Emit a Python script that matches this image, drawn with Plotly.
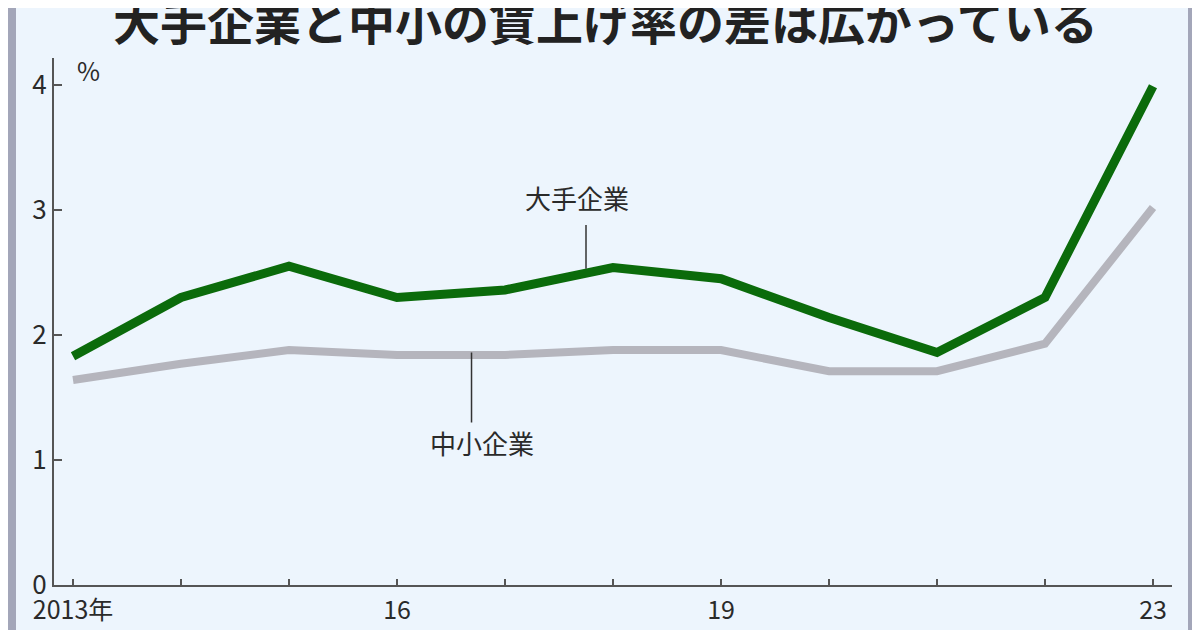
import plotly.graph_objects as go

# 賃上げ率 (%), 2013-2023
years = list(range(2013, 2024))
ote = [1.83, 2.30, 2.55, 2.30, 2.36, 2.54, 2.45, 2.14, 1.86, 2.30, 3.99]      # 大手企業
chusho = [1.64, 1.77, 1.88, 1.84, 1.84, 1.88, 1.88, 1.71, 1.71, 1.93, 3.02]   # 中小企業
tick_text = ["2013年", "", "", "16", "", "", "19", "", "", "", "23"]
y_ticks = [0, 1, 2, 3, 4]

BG = "#edf5fd"
TXT = "#2a2a2a"
AX = "#555555"
JP = "Noto Sans CJK JP"

# plot area in page pixels: x 54..1172, y 58..585
L, R, T, B = 54, 1172, 58, 585
OFF = 8  # the page body has an 8px margin
W, H = 1200 - OFF, 630 - OFF


def px(x):
    return (x - L) / (R - L)


def py(y):
    return (B - y) / (B - T)


fig = go.Figure()
fig.add_trace(go.Scatter(x=years, y=chusho, mode="lines",
                         line=dict(color="#b5b5bd", width=8), hoverinfo="skip"))
fig.add_trace(go.Scatter(x=years, y=ote, mode="lines",
                         line=dict(color="#0b6b0b", width=9), hoverinfo="skip"))

# side bands
fig.add_shape(type="rect", xref="paper", yref="paper", x0=px(0), x1=px(16),
              y0=py(640), y1=py(0), fillcolor="#a3a6b9", line_width=0, layer="below")
fig.add_shape(type="rect", xref="paper", yref="paper", x0=px(1188), x1=px(1210),
              y0=py(640), y1=py(0), fillcolor="#a3a6b9", line_width=0, layer="below")

# label leader lines
fig.add_shape(type="line", x0=2017.75, x1=2017.75, y0=2.88, y1=2.53,
              line=dict(color="#333333", width=1.5))
fig.add_shape(type="line", x0=2016.69, x1=2016.69, y0=1.86, y1=1.30,
              line=dict(color="#333333", width=1.5))

fig.add_annotation(x=2017.67, y=3.1, text="大手企業", showarrow=False,
                   xanchor="center", yanchor="middle",
                   font=dict(family=JP, size=26, color=TXT))
fig.add_annotation(x=2016.79, y=1.14, text="中小企業", showarrow=False,
                   xanchor="center", yanchor="middle",
                   font=dict(family=JP, size=26, color=TXT))
fig.add_annotation(xref="paper", yref="paper", x=px(88), y=py(70), text="%",
                   showarrow=False, xanchor="center", yanchor="middle",
                   font=dict(family=JP, size=25, color=TXT))
fig.add_annotation(xref="paper", yref="paper", x=px(605), y=py(19),
                   text="<b>大手企業と中小の賃上げ率の差は広がっている</b>",
                   showarrow=False, xanchor="center", yanchor="middle",
                   font=dict(family=JP, size=47, color="#222222"))

fig.update_layout(
    width=W, height=H,
    margin=dict(l=L - OFF, r=1200 - R, t=T - OFF, b=630 - B, pad=0),
    paper_bgcolor=BG, plot_bgcolor=BG,
    showlegend=False,
    xaxis=dict(range=[2013 - 19 / 108, 2023 + 19 / 108], tickvals=years, ticktext=tick_text,
               ticks="inside", ticklen=6, tickwidth=2, tickcolor=AX,
               showline=True, linecolor=AX, linewidth=2, showgrid=False, zeroline=False,
               ticklabelstandoff=2, automargin=False,
               tickfont=dict(family=JP, size=25, color=TXT)),
    yaxis=dict(range=[0, (B - T) / 125], tickvals=y_ticks,
               ticks="inside", ticklen=8, tickwidth=1.5, tickcolor=AX,
               showline=True, linecolor=AX, linewidth=2, showgrid=False, zeroline=False,
               automargin=False,
               tickfont=dict(family=JP, size=26, color=TXT)),
)

fig.write_html("out.html")
